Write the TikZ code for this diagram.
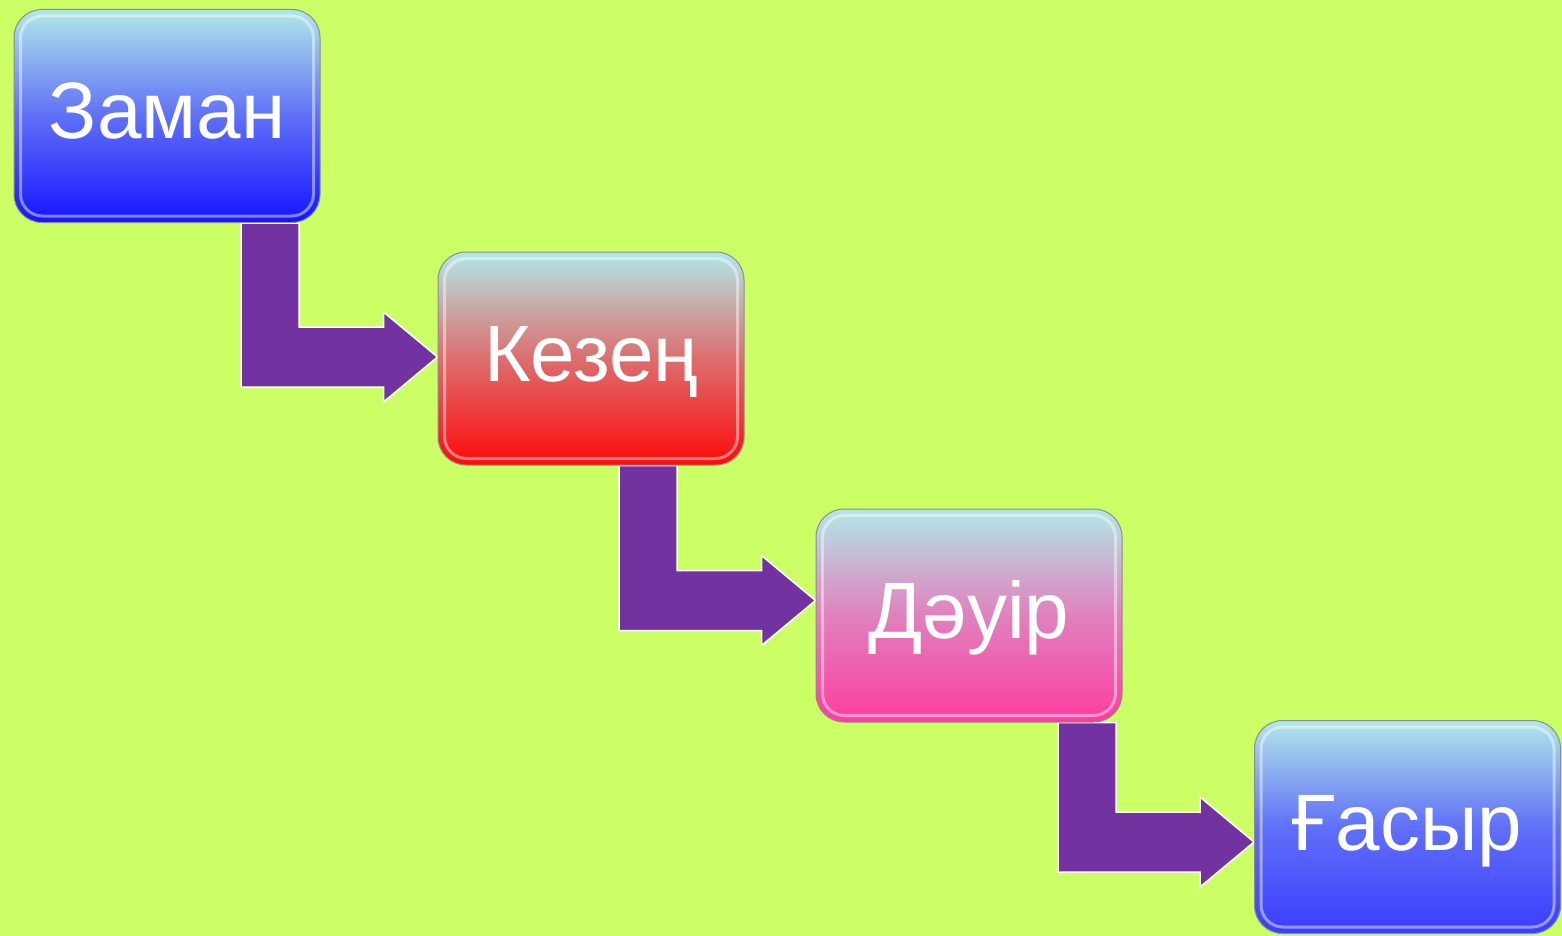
\documentclass[tikz,border=0pt]{standalone}
\usepackage{fontspec}
\setmainfont{Liberation Sans}
\usetikzlibrary{calc}
\pgfdeclarelayer{background}
\pgfsetlayers{background,main}
\definecolor{bg}{RGB}{204,255,102}
\definecolor{arrowpurple}{RGB}{114,50,160}
\definecolor{topcyan}{RGB}{178,232,232}
\definecolor{blueA}{RGB}{20,20,255}
\definecolor{blueB}{RGB}{60,60,255}
\definecolor{redA}{RGB}{255,10,10}
\definecolor{pinkA}{RGB}{255,60,160}
\tikzset{
  termbox/.style={rounded corners=28pt, minimum width=306pt, minimum height=213pt,
    draw=black!45, line width=1pt, text=white, font=\fontsize{80}{80}\selectfont,
    text height=58pt, text depth=12pt, inner sep=0pt, shading=axis},
  gloss/.style={draw=white, draw opacity=0.45, line width=3pt, rounded corners=22pt},
  bentarrow/.style={fill=arrowpurple, draw=white, line width=1.5pt, line join=miter}
}
\newcommand{\glossy}[1]{%
  \draw[gloss] ($(#1.north west)+(7,7)$) rectangle ($(#1.south east)+(-7,-7)$);}
% #1 from node, #2 to node, #3 shaft centre x, #4 tip offset downwards from to.west
\newcommand{\bendarrow}[4]{%
  \path[bentarrow] let \p1=(#1.south), \p2=(#2.west) in
    (#3-29pt,\y1) -- (#3+29pt,\y1) -- (#3+29pt,\y2-#4+30pt) -- (\x2-54pt,\y2-#4+30pt)
    -- (\x2-54pt,\y2-#4+45pt) -- (\x2,\y2-#4) -- (\x2-54pt,\y2-#4-45pt) -- (\x2-54pt,\y2-#4-30pt)
    -- (#3-29pt,\y2-#4-30pt) -- cycle;}
\begin{document}
\begin{tikzpicture}[x=1pt,y=-1pt]
\begin{pgfonlayer}{background}
\fill[bg] (0,0) rectangle (1562,936);
\end{pgfonlayer}
\useasboundingbox (0,0) rectangle (1562,936);
\path (167,116) node[termbox, top color=topcyan, bottom color=blueA, middle color=blueB!70!topcyan] (zaman) {Заман};
\glossy{zaman}
\path (591,358.5) node[termbox, top color=topcyan, bottom color=redA, middle color=redA!55!topcyan] (kezen) {Кезең};
\glossy{kezen}
\path (969,615.5) node[termbox, top color=topcyan, bottom color=pinkA, middle color=pinkA!60!topcyan] (dauir) {Дәуір};
\glossy{dauir}
\path (1407.5,827) node[termbox, top color=topcyan, bottom color=blueB, middle color=blueB!70!topcyan] (gasyr) {Ғасыр};
\glossy{gasyr}
\begin{pgfonlayer}{background}
\bendarrow{zaman}{kezen}{270pt}{-1.5pt}
\bendarrow{kezen}{dauir}{648pt}{-15pt}
\bendarrow{dauir}{gasyr}{1087pt}{15pt}
\end{pgfonlayer}
\end{tikzpicture}
\end{document}
